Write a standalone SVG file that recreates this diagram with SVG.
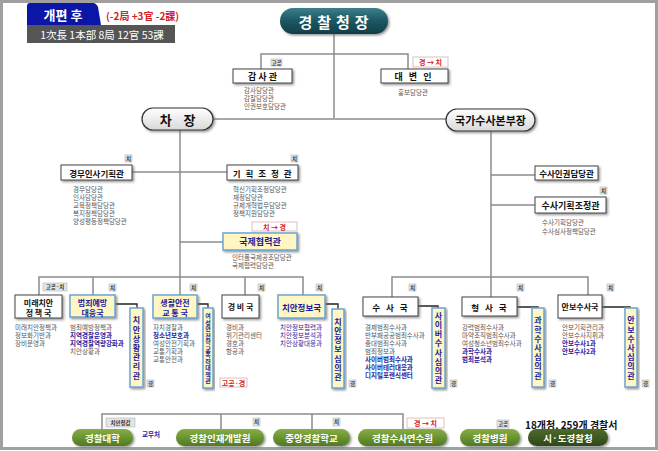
<svg xmlns="http://www.w3.org/2000/svg" width="658" height="451" viewBox="0 0 658 451">
<defs>
<filter id="sh" x="-20%" y="-20%" width="140%" height="150%"><feDropShadow dx="1.5" dy="1.5" stdDeviation="0.8" flood-color="#666" flood-opacity="0.7"/></filter>
<linearGradient id="teal" x1="0" y1="0" x2="0" y2="1"><stop offset="0" stop-color="#3c7f8b"/><stop offset="0.5" stop-color="#1c5762"/><stop offset="1" stop-color="#0f3f49"/></linearGradient>
<linearGradient id="pill" x1="0" y1="0" x2="0" y2="1"><stop offset="0" stop-color="#ffffff"/><stop offset="1" stop-color="#d9d9d9"/></linearGradient>
<linearGradient id="grn" x1="0" y1="0" x2="0" y2="1"><stop offset="0" stop-color="#86ad45"/><stop offset="1" stop-color="#4f7b20"/></linearGradient>
<linearGradient id="dgrn" x1="0" y1="0" x2="0" y2="1"><stop offset="0" stop-color="#4d6b2c"/><stop offset="1" stop-color="#2e4818"/></linearGradient>
</defs>
<style>
text{font-family:"Noto Sans CJK KR","Noto Sans",sans-serif}
.ln{stroke:#8c8c8c;stroke-width:1.5;fill:none}
.dk{stroke:#222;stroke-width:1.3;fill:none}
.wb{fill:#fff;stroke:#444;stroke-width:1;filter:url(#sh)}
.yb{fill:#fff6c4;stroke:#6aa6d6;stroke-width:1.5;filter:url(#sh)}
.pl{fill:url(#pill);stroke:#333;stroke-width:1.2;filter:url(#sh)}
.gp{fill:url(#grn);filter:url(#sh)}
.tag{fill:#e4e4e4;stroke:#b4b4b4;stroke-width:0.6}
.rtag{fill:#fff;stroke:#d8b0b0;stroke-width:0.8}
.tt{font-size:5.5px;fill:#333;text-anchor:middle;dominant-baseline:central;font-weight:bold}
.rt{font-size:7px;fill:#d21f1f;text-anchor:middle;dominant-baseline:central;font-weight:bold}
.ti{font-size:8.5px;font-weight:bold;fill:#111;text-anchor:middle;dominant-baseline:central}
.tb{font-size:8.5px;font-weight:bold;fill:#1c1c9c;text-anchor:middle;dominant-baseline:central}
.sub{font-size:6.5px;fill:#555;dominant-baseline:central}
.b{fill:#1f1fa0;font-weight:bold}
.vt{font-size:8px;font-weight:bold;fill:#1c1c9c;text-anchor:middle;writing-mode:vertical-rl;letter-spacing:1.2px}
.gt{font-size:9.5px;font-weight:bold;fill:#fff;text-anchor:middle;dominant-baseline:central}
</style>
<rect x="1.5" y="1.5" width="655" height="447" fill="#fff" stroke="#a0a0a0" stroke-width="3"/>

<g id="header">
<path d="M27,25 V6 Q27,3 30,3 H93 Q96,3 98,7 L101,25 Z" fill="#0c16a6"/>
<text x="63" y="14.5" font-size="13" font-weight="bold" fill="#fff" text-anchor="middle" dominant-baseline="central">개편 후</text>
<text x="106" y="15" font-size="10" font-weight="bold" fill="#d21f1f" dominant-baseline="central">(-2局 +3官 -2課)</text>
<rect x="27" y="25" width="148" height="18" fill="#555"/>
<text x="102" y="34" font-size="10.5" fill="#fff" text-anchor="middle" dominant-baseline="central">1次長 1本部 8局 12官 53課</text>
</g>

<g id="connectors">
<path class="ln" d="M334,34 V118"/>
<path class="ln" d="M261,69 V54 H408 V69"/>
<path class="ln" d="M213,119 H446"/>
<path class="ln" d="M180,130 V295"/>
<path class="ln" d="M132,172 H227"/>
<path class="ln" d="M180,242 H223"/>
<path class="ln" d="M39,295 V277 H303 V295 M93,277 V295 M245,277 V295"/>
<path class="ln" d="M491,131 V297"/>
<path class="ln" d="M491,175 H535 M491,205 H535"/>
<path class="ln" d="M392,297 V277 H588 V295"/>
<path class="ln" d="M102,429 V414 H403 V429 M221,414 V429 M312,414 V429"/>
<path class="dk" d="M115,304 H137 V308"/>
<path class="dk" d="M197,304 H208 V308"/>
<path class="dk" d="M325,304 H338 V309"/>
<path class="dk" d="M418,306 H438 V308"/>
<path class="dk" d="M517,307 H538 V308"/>
<path class="dk" d="M602,307 H630 V308"/>
</g>

<g id="n-commissioner">
<rect x="280" y="8" width="108" height="26" rx="13" fill="url(#teal)" filter="url(#sh)"/>
<text x="336" y="21" font-size="15" font-weight="bold" fill="#fff" text-anchor="middle" dominant-baseline="central" letter-spacing="5">경찰청장</text>
</g>

<g id="n-audit">
<rect class="tag" x="271" y="59" width="11" height="7"/><text class="tt" x="276.5" y="62.5">고공</text>
<rect class="wb" x="233" y="69" width="59" height="14"/>
<text class="ti" x="262.5" y="76" style="font-size:9px">감 사 관</text>
<text class="sub"><tspan x="244" y="90">감사담당관</tspan><tspan x="244" y="98">감찰담당관</tspan><tspan x="244" y="106">인권보호담당관</tspan></text>
</g>

<g id="n-spokesman">
<rect class="rtag" x="413" y="57" width="35" height="10"/><text class="rt" x="430.5" y="62">경 → 치</text>
<rect class="wb" x="381" y="69" width="67" height="14"/>
<text class="ti" x="416" y="76" style="font-size:9px" letter-spacing="6">대변인</text>
<text class="sub" x="413" y="92" text-anchor="middle">홍보담당관</text>
</g>

<g id="n-deputy">
<rect class="pl" x="142" y="108" width="71" height="22" rx="11"/>
<text x="177.5" y="119" font-size="13" font-weight="bold" fill="#111" text-anchor="middle" dominant-baseline="central">차&#160;&#160;&#160;&#160;장</text>
</g>

<g id="n-nib">
<rect class="pl" x="446" y="109" width="89" height="22" rx="11"/>
<text x="490.5" y="120" font-size="11" font-weight="bold" fill="#111" text-anchor="middle" dominant-baseline="central">국가수사본부장</text>
</g>

<g id="n-personnel">
<rect class="tag" x="125" y="155" width="7" height="7"/><text class="tt" x="128.5" y="158.5">치</text>
<rect class="wb" x="61" y="165" width="71" height="15"/>
<text class="ti" x="96.5" y="172.5">경무인사기획관</text>
<text class="sub"><tspan x="73" y="189">경무담당관</tspan><tspan x="73" y="197">인사담당관</tspan><tspan x="73" y="205">교육정책담당관</tspan><tspan x="73" y="213">복지정책담당관</tspan><tspan x="73" y="221">양성평등정책담당관</tspan></text>
</g>

<g id="n-planning">
<rect class="tag" x="291" y="155" width="7" height="7"/><text class="tt" x="294.5" y="158.5">치</text>
<rect class="wb" x="227" y="165" width="71" height="15"/>
<text class="ti" x="263" y="172.5" letter-spacing="1.5">기 획 조 정 관</text>
<text class="sub"><tspan x="233" y="189">혁신기획조정담당관</tspan><tspan x="233" y="197">재정담당관</tspan><tspan x="233" y="205">규제개혁법무담당관</tspan><tspan x="233" y="213">정책지원담당관</tspan></text>
</g>

<g id="n-intl">
<rect class="rtag" x="252" y="222" width="45" height="9"/><text class="rt" x="274.5" y="226.5">치 → 경</text>
<rect class="yb" x="223" y="233" width="74" height="17"/>
<text class="tb" x="260" y="241.5" style="font-size:9px">국제협력관</text>
<text class="sub"><tspan x="232" y="257">인터폴국제공조담당관</tspan><tspan x="232" y="265">국제협력담당관</tspan></text>
</g>

<g id="n-invrights">
<rect class="wb" x="535" y="166" width="63" height="14"/>
<text class="ti" x="566.5" y="173">수사인권담당관</text>
</g>

<g id="n-invplan">
<rect class="tag" x="600" y="187" width="7" height="7"/><text class="tt" x="603.5" y="190.5">치</text>
<rect class="wb" x="535" y="197" width="71" height="16"/>
<text class="ti" x="570.5" y="205" style="font-size:9px">수사기획조정관</text>
<text class="sub"><tspan x="542" y="222">수사기획담당관</tspan><tspan x="542" y="231">수사심사정책담당관</tspan></text>
</g>

<g id="n-future">
<rect class="tag" x="43" y="283" width="24" height="8"/><text class="tt" x="55" y="287">고공·치</text>
<rect class="wb" x="15" y="295" width="47" height="23"/>
<text class="ti" style="font-size:8px"><tspan x="38.5" y="302">미래치안</tspan><tspan x="38.5" y="312">정 책 국</tspan></text>
<text class="sub"><tspan x="15" y="327">미래치안정책과</tspan><tspan x="15" y="335">정보화기반과</tspan><tspan x="15" y="343">장비운영과</tspan></text>
</g>

<g id="n-prevent">
<rect class="tag" x="109" y="284" width="7" height="7"/><text class="tt" x="112.5" y="287.5">치</text>
<rect class="yb" x="70" y="295" width="45" height="22"/>
<text class="tb" style="font-size:8px"><tspan x="92.5" y="302">범죄예방</tspan><tspan x="92.5" y="312">대응국</tspan></text>
<text class="sub"><tspan x="70" y="327">범죄예방정책과</tspan><tspan class="b" x="70" y="335">지역경찰운영과</tspan><tspan class="b" x="70" y="343">지역경찰역량강화과</tspan><tspan x="70" y="351">치안상황과</tspan></text>
</g>

<g id="n-situation">
<rect class="yb" x="130" y="308" width="13" height="79"/>
<text class="vt" x="136.5" y="348.5">치안상황관리관</text>
<rect class="tag" x="147" y="380" width="7" height="7"/><text class="tt" x="150.5" y="383.5">경</text>
</g>

<g id="n-life">
<rect class="tag" x="190" y="284" width="7" height="7"/><text class="tt" x="193.5" y="287.5">치</text>
<rect class="yb" x="153" y="295" width="44" height="23"/>
<text class="tb" style="font-size:8px"><tspan x="175" y="302">생활안전</tspan><tspan x="175" y="312">교 통 국</tspan></text>
<text class="sub"><tspan x="153" y="327">자치경찰과</tspan><tspan class="b" x="153" y="335">청소년보호과</tspan><tspan x="153" y="343">여성안전기획과</tspan><tspan x="153" y="351">교통기획과</tspan><tspan x="153" y="359">교통안전과</tspan></text>
</g>

<g id="n-women">
<rect class="yb" x="203" y="308" width="10" height="80"/>
<text class="vt" x="208" y="348.5" style="font-size:6px;letter-spacing:0.5px">여성안전학교폭력대책관</text>
<rect class="rtag" x="220" y="378" width="27" height="9"/><text class="rt" x="233.5" y="382.5">고공·경</text>
</g>

<g id="n-guard">
<rect class="tag" x="258" y="284" width="7" height="7"/><text class="tt" x="261.5" y="287.5">치</text>
<rect class="wb" x="222" y="295" width="37" height="23"/>
<text class="ti" x="240.5" y="306.5" style="font-size:8px">경 비 국</text>
<text class="sub"><tspan x="226" y="327">경비과</tspan><tspan x="226" y="335">위기관리센터</tspan><tspan x="226" y="343">경호과</tspan><tspan x="226" y="351">항공과</tspan></text>
</g>

<g id="n-intel">
<rect class="tag" x="316" y="284" width="7" height="7"/><text class="tt" x="319.5" y="287.5">치</text>
<rect class="yb" x="278" y="295" width="47" height="23"/>
<text class="tb" x="301.5" y="306.5">치안정보국</text>
<text class="sub" style="fill:#1f1fa0"><tspan x="280" y="327">치안정보협력과</tspan><tspan x="280" y="335">치안정보분석과</tspan><tspan x="280" y="343">치안상황대응과</tspan></text>
</g>

<g id="n-inteldel">
<rect class="yb" x="332" y="309" width="12" height="79"/>
<text class="vt" x="338" y="350">치안정보심의관</text>
<rect class="tag" x="349" y="380" width="7" height="7"/><text class="tt" x="352.5" y="383.5">경</text>
</g>

<g id="n-invest">
<rect class="tag" x="409" y="284" width="7" height="7"/><text class="tt" x="412.5" y="287.5">치</text>
<rect class="wb" x="363" y="297" width="55" height="19"/>
<text class="ti" x="391" y="306.5" letter-spacing="2">수 사 국</text>
<text class="sub"><tspan x="365" y="327">경제범죄수사과</tspan><tspan x="365" y="335">반부패공공범죄수사과</tspan><tspan x="365" y="343">중대범죄수사과</tspan><tspan x="365" y="351">범죄정보과</tspan><tspan class="b" x="365" y="359">사이버범죄수사과</tspan><tspan class="b" x="365" y="367">사이버테러대응과</tspan><tspan class="b" x="365" y="375">디지털포렌식센터</tspan></text>
</g>

<g id="n-cyber">
<rect class="yb" x="432" y="308" width="13" height="80"/>
<text class="vt" x="438.5" y="348.5">사이버수사심의관</text>
<rect class="tag" x="450" y="380" width="7" height="7"/><text class="tt" x="453.5" y="383.5">경</text>
</g>

<g id="n-crime">
<rect class="tag" x="517" y="284" width="7" height="7"/><text class="tt" x="520.5" y="287.5">치</text>
<rect class="wb" x="462" y="297" width="55" height="19"/>
<text class="ti" x="490" y="306.5" letter-spacing="2">형 사 국</text>
<text class="sub"><tspan x="462" y="327">강력범죄수사과</tspan><tspan x="462" y="335">마약조직범죄수사과</tspan><tspan x="462" y="343">여성청소년범죄수사과</tspan><tspan class="b" x="462" y="351">과학수사과</tspan><tspan class="b" x="462" y="359">범죄분석과</tspan></text>
</g>

<g id="n-science">
<rect class="yb" x="532" y="308" width="12" height="79"/>
<text class="vt" x="538" y="348.5">과학수사심의관</text>
<rect class="tag" x="549" y="380" width="7" height="7"/><text class="tt" x="552.5" y="383.5">경</text>
</g>

<g id="n-security">
<rect class="tag" x="607" y="284" width="7" height="7"/><text class="tt" x="610.5" y="287.5">치</text>
<rect class="wb" x="558" y="295" width="44" height="23"/>
<text class="ti" x="580" y="306.5" style="font-size:8px">안보수사국</text>
<text class="sub"><tspan x="562" y="327">안보기획관리과</tspan><tspan x="562" y="335">안보수사지휘과</tspan><tspan class="b" x="562" y="343">안보수사1과</tspan><tspan class="b" x="562" y="351">안보수사2과</tspan></text>
</g>

<g id="n-secdel">
<rect class="yb" x="625" y="308" width="12" height="79"/>
<text class="vt" x="631" y="348.5">안보수사심의관</text>
<rect class="tag" x="642" y="380" width="7" height="7"/><text class="tt" x="645.5" y="383.5">경</text>
</g>

<g id="n-univ">
<rect class="tag" x="106" y="418" width="29" height="9"/><text class="tt" x="120.5" y="422.5">치안정감</text>
<rect class="gp" x="72" y="429" width="61" height="17" rx="8.5"/>
<text class="gt" x="102.5" y="437.5">경찰대학</text>
<text x="142" y="434" font-size="6.5" font-weight="bold" fill="#1f1fa0" dominant-baseline="central">교무처</text>
</g>

<g id="n-hrd">
<rect class="tag" x="253" y="418" width="7" height="8"/><text class="tt" x="256.5" y="422">치</text>
<rect class="gp" x="176" y="429" width="88" height="17" rx="8.5"/>
<text class="gt" x="220" y="437.5">경찰인재개발원</text>
</g>

<g id="n-school">
<rect class="tag" x="333" y="418" width="7" height="8"/><text class="tt" x="336.5" y="422">치</text>
<rect class="gp" x="273" y="429" width="77" height="17" rx="8.5"/>
<text class="gt" x="311.5" y="437.5">중앙경찰학교</text>
</g>

<g id="n-invacademy">
<rect class="rtag" x="407" y="418" width="37" height="10"/><text class="rt" x="425.5" y="423">경 → 치</text>
<rect class="gp" x="358" y="429" width="89" height="17" rx="8.5"/>
<text class="gt" x="402.5" y="437.5">경찰수사연수원</text>
</g>

<g id="n-hospital">
<rect class="tag" x="497" y="420" width="12" height="8"/><text class="tt" x="503" y="424">고공</text>
<rect class="gp" x="460" y="429" width="60" height="17" rx="8.5"/>
<text class="gt" x="490" y="437.5">경찰병원</text>
</g>

<g id="n-provincial">
<text x="525" y="424" font-size="10" font-weight="bold" fill="#111" dominant-baseline="central">18개청,  259개 경찰서</text>
<rect x="528" y="429" width="80" height="17" rx="8.5" fill="url(#dgrn)" filter="url(#sh)"/>
<text class="gt" x="568" y="437.5">시·도경찰청</text>
</g>
</svg>
